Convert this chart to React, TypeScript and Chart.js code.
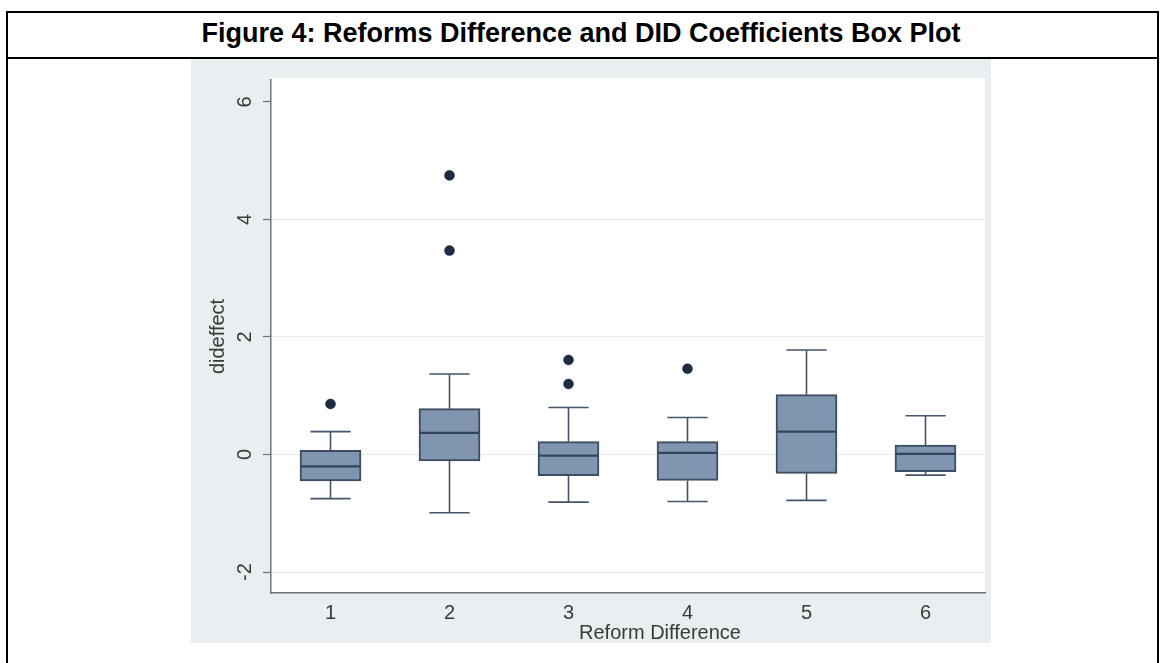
import React, { useEffect, useRef } from 'react';
import { Chart, registerables } from 'chart.js';

Chart.register(...registerables);

// ---- Data ----
const categories = ['1', '2', '3', '4', '5', '6'];
const lowerWhisker = [-0.75, -0.99, -0.81, -0.8, -0.78, -0.35];
const q1 = [-0.45, -0.11, -0.36, -0.44, -0.32, -0.29];
const median = [-0.2, 0.37, -0.02, 0.03, 0.39, 0.01];
const q3 = [0.07, 0.78, 0.22, 0.22, 1.02, 0.16];
const upperWhisker = [0.39, 1.37, 0.8, 0.63, 1.78, 0.66];
const outlierCats = ['1', '2', '2', '3', '3', '4'];
const outlierValues = [0.86, 4.75, 3.47, 1.61, 1.2, 1.46];
const yTickValues = [-2, 0, 2, 4, 6];
const yGridValues = [-2, 0, 2, 4];

const FONT = "'Liberation Sans', Arial, Helvetica, sans-serif";
const BOX_FILL = '#8096b0';
const BOX_EDGE = '#3d4d61';
const WHISKER = '#44546a';
const MEDIAN = '#34445a';
const DOT = '#1d2c41';
const AXIS = '#6c747c';
const TEXT = '#3a3a3a';
const BG = '#e9eff1';
const GRID = 'rgba(222,230,233,0.8)';

const whiskerPlugin = {
  id: 'boxWhiskers',
  afterDatasetsDraw(chart: any) {
    const { ctx } = chart;
    const x = chart.scales.x;
    const y = chart.scales.y;
    const meta = chart.getDatasetMeta(0);
    ctx.save();
    categories.forEach((_, i) => {
      const px = x.getPixelForValue(i);
      const bar: any = meta.data[i];
      const half = bar ? bar.width / 2 : 30;
      const cap = half * 0.66;
      const yLo = y.getPixelForValue(lowerWhisker[i]);
      const yQ1 = y.getPixelForValue(q1[i]);
      const yQ3 = y.getPixelForValue(q3[i]);
      const yHi = y.getPixelForValue(upperWhisker[i]);
      const yMed = y.getPixelForValue(median[i]);
      ctx.strokeStyle = WHISKER;
      ctx.lineWidth = 1.6;
      ctx.beginPath();
      ctx.moveTo(px, yLo);
      ctx.lineTo(px, yQ1);
      ctx.moveTo(px, yQ3);
      ctx.lineTo(px, yHi);
      ctx.moveTo(px - cap, yLo);
      ctx.lineTo(px + cap, yLo);
      ctx.moveTo(px - cap, yHi);
      ctx.lineTo(px + cap, yHi);
      ctx.stroke();
      ctx.strokeStyle = MEDIAN;
      ctx.lineWidth = 2.2;
      ctx.beginPath();
      ctx.moveTo(px - half + 1, yMed);
      ctx.lineTo(px + half - 1, yMed);
      ctx.stroke();
    });
    ctx.restore();
  },
};

export default function App() {
  const canvasRef = useRef<HTMLCanvasElement | null>(null);

  useEffect(() => {
    if (!canvasRef.current) return;
    const chart = new Chart(canvasRef.current, {
      type: 'bar',
      data: {
        labels: categories,
        datasets: [
          {
            type: 'bar',
            data: q1.map((v, i) => [v, q3[i]]) as any,
            backgroundColor: BOX_FILL,
            borderColor: BOX_EDGE,
            borderWidth: 2,
            borderSkipped: false,
            barThickness: 61,
            order: 1,
          } as any,
          {
            type: 'line',
            data: outlierCats.map((c, i) => ({ x: c, y: outlierValues[i] })) as any,
            showLine: false,
            pointRadius: 5,
            pointHoverRadius: 5,
            pointBackgroundColor: DOT,
            pointBorderColor: DOT,
            pointBorderWidth: 0.5,
            order: 0,
          } as any,
        ],
      },
      options: {
        responsive: false,
        animation: false,
        events: [],
        layout: { padding: { top: 19, right: 6, left: 0, bottom: 0 } },
        plugins: {
          legend: { display: false },
          tooltip: { enabled: false },
        },
        scales: {
          x: {
            type: 'category',
            offset: true,
            afterFit: (s: any) => {
              s.height = 50;
            },
            grid: { display: true, drawOnChartArea: false, drawTicks: false },
            border: { display: true, color: AXIS, width: 1.5 },
            ticks: {
              color: TEXT,
              font: { family: FONT, size: 20 },
              padding: 8,
              maxRotation: 0,
              minRotation: 0,
            },
          },
          y: {
            type: 'linear',
            min: -2.356,
            max: 6.373,
            afterFit: (s: any) => {
              s.width = 80;
            },
            afterBuildTicks: (s: any) => {
              s.ticks = yTickValues.map((v) => ({ value: v }));
            },
            grid: {
              color: (c: any) =>
                c.tick && yGridValues.includes(c.tick.value) ? GRID : 'rgba(0,0,0,0)',
              lineWidth: 1,
              drawTicks: true,
              tickLength: 8,
              tickColor: AXIS,
              tickWidth: 1.2,
            },
            border: { display: true, color: AXIS, width: 1.5 },
            ticks: {
              color: TEXT,
              font: { family: FONT, size: 20 },
              minRotation: 90,
              maxRotation: 90,
              crossAlign: 'center',
              padding: 9,
              callback: (v: any) => String(v),
            },
            title: {
              display: true,
              text: 'dideffect',
              color: TEXT,
              font: { family: FONT, size: 20 },
              padding: { top: 15, bottom: 0 },
            },
          },
        },
      } as any,
      plugins: [whiskerPlugin],
    });
    return () => chart.destroy();
  }, []);

  const line = (l: number, t: number, w: number, h: number) => (
    <div style={{ position: 'absolute', left: l, top: t, width: w, height: h, background: '#000' }} />
  );

  return (
    <div
      style={{
        position: 'fixed',
        left: 0,
        top: 0,
        width: 1162,
        height: 663,
        background: '#fff',
        overflow: 'hidden',
        fontFamily: FONT,
      }}
    >
      {line(6, 11, 1153, 2)}
      {line(6, 11, 2, 652)}
      {line(1157, 11, 2, 652)}
      {line(6, 57, 1153, 2)}
      <div
        style={{
          position: 'absolute',
          left: 0,
          top: 20,
          width: 1162,
          textAlign: 'center',
          fontSize: 27,
          lineHeight: '27px',
          fontWeight: 'bold',
          color: '#000',
          whiteSpace: 'nowrap',
        }}
      >
        Figure 4: Reforms Difference and DID Coefficients Box Plot
      </div>
      <div
        style={{
          position: 'absolute',
          left: 191,
          top: 59,
          width: 800,
          height: 584,
          background: BG,
        }}
      >
        <div
          style={{
            position: 'absolute',
            left: 80,
            top: 19,
            width: 714,
            height: 515,
            background: '#fff',
          }}
        />
        <canvas
          ref={canvasRef}
          width={800}
          height={584}
          style={{ position: 'absolute', left: 0, top: 0, width: 800, height: 584 }}
        />
        <div
          style={{
            position: 'absolute',
            left: 469,
            top: 561,
            transform: 'translateX(-50%)',
            fontSize: 20,
            lineHeight: '24px',
            color: TEXT,
            whiteSpace: 'nowrap',
          }}
        >
          Reform Difference
        </div>
      </div>
    </div>
  );
}
